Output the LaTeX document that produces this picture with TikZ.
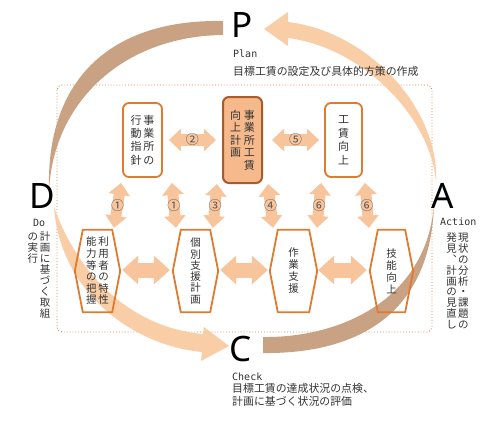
\documentclass[tikz,border=0pt]{standalone}
\usepackage{fontspec}
\setmainfont{Noto Sans CJK JP}
\newfontfamily\bigfont{Noto Sans}
\newfontfamily\monof{DejaVu Sans Mono}
\usetikzlibrary{arrows.meta,calc}
\definecolor{arrowc}{HTML}{F8C49C}
\definecolor{arcpeach}{HTML}{F9CDA6}
\definecolor{arcbrown}{HTML}{C9A183}
\definecolor{boxline}{HTML}{E07A2E}
\definecolor{centerfill}{HTML}{F5B98B}
\definecolor{centerline}{HTML}{A95C2B}
\definecolor{dotc}{HTML}{D9874A}
\definecolor{txt}{HTML}{333333}
\definecolor{numc}{HTML}{555555}
\newcommand{\vcol}[2]{\begin{minipage}[t]{1.05em}\centering\baselineskip=#1\relax #2\end{minipage}}
\tikzset{
  topbox/.style={draw=boxline, line width=1.8pt, rounded corners=6pt, fill=white,
    minimum width=39pt, minimum height=74pt, inner sep=0pt, text=txt,
    font=\fontsize{11}{13}\selectfont},
  centerbox/.style={topbox, draw=centerline, fill=centerfill, line width=2pt, minimum height=86pt},
  hexnode/.style={minimum width=45pt, minimum height=82pt, inner sep=0pt, text=txt,
    font=\fontsize{10.5}{11.5}\selectfont},
  hexline/.style={draw=boxline, line width=1.8pt, line join=round},
  hdbl/.style={draw=arrowc, line width=12pt,
    arrows={Triangle[width=22pt,length=12pt]-Triangle[width=22pt,length=12pt]}},
  bdbl/.style={draw=arrowc, line width=15pt,
    arrows={Triangle[width=28pt,length=16pt]-Triangle[width=28pt,length=16pt]}},
  vdbl/.style={draw=arrowc, line width=11pt,
    arrows={Triangle[width=21pt,length=12pt]-Triangle[width=21pt,length=12pt]}},
  num/.style={font=\fontsize{13}{13}\selectfont, text=numc, inner sep=0pt},
  bigl/.style={font=\bigfont\fontsize{35}{35}\selectfont, text=black, inner sep=0pt},
  monotxt/.style={font=\monof\fontsize{10}{12}\selectfont, text=txt, inner sep=0pt},
  jptxt/.style={font=\fontsize{10.9}{13}\selectfont, text=txt, inner sep=0pt},
  vtxt/.style={font=\fontsize{10.5}{11}\selectfont, text=txt, inner sep=0pt},
}
\begin{document}
\begin{tikzpicture}[x=1pt,y=-1pt]
\useasboundingbox (0,0) rectangle (500,423);
\fill[white] (0,0) rectangle (500,423);

% dotted frame
\draw[dotc, dotted, line width=0.9pt, rounded corners=5pt] (57,85) rectangle (432,332);

% PDCA arcs
\fill[arcbrown] (223,21) .. controls (110,19) and (46,80) .. (49,190)
  .. controls (54,100) and (125,36) .. (223,35) -- cycle;
\fill[arcpeach] (54,207) .. controls (60,290) and (130,345) .. (202,352)
  -- (201,361) -- (229,346) -- (204,327) -- (203,334)
  .. controls (135,328) and (80,280) .. (54,207) -- cycle;
\fill[arcbrown] (263,353) .. controls (350,354) and (430,320) .. (434,205)
  .. controls (426,300) and (340,338) .. (263,337) -- cycle;
\fill[arcpeach] (436,183) .. controls (440,110) and (370,32) .. (288,22)
  -- (288,12) -- (264,29) -- (288,46) -- (288,38)
  .. controls (365,48) and (432,120) .. (436,183) -- cycle;

% top boxes
\node[topbox] (b1) at (142.5,140) {\vcol{13.3pt}{行\\動\\指\\針}\hspace{1pt}\vcol{13.3pt}{事\\業\\所\\の}};
\node[centerbox] (b2) at (242.5,140) {\vcol{12.5pt}{向\\上\\計\\画}\hspace{2pt}\vcol{12.5pt}{事\\業\\所\\工\\賃}};
\node[topbox, minimum width=37pt] (b3) at (343.5,140) {\vcol{13.5pt}{工\\賃\\向\\上}};

% hexagons
\node[hexnode] (h1) at (97.5,271) {\vcol{11.6pt}{能\\力\\等\\の\\把\\握}\hspace{1pt}\vcol{11.6pt}{利\\用\\者\\の\\特\\性}};
\node[hexnode] (h2) at (195.5,271) {\vcol{11.3pt}{個\\別\\支\\援\\計\\画}};
\node[hexnode, minimum width=47pt] (h3) at (293.5,271) {\vcol{12pt}{作\\業\\支\\援}};
\node[hexnode, minimum width=43pt] (h4) at (391.5,271) {\vcol{12pt}{技\\能\\向\\上}};
\foreach \n in {h1,h2,h3,h4}{
  \draw[hexline] (\n.west) -- ($(\n.north west)+(8,0)$) -- ($(\n.north east)+(-8,0)$)
    -- (\n.east) -- ($(\n.south east)+(-8,0)$) -- ($(\n.south west)+(8,0)$) -- cycle;
}

% top horizontal arrows
\draw[hdbl, shorten <=6pt, shorten >=6pt] (b1.east) -- node[num]{②} (b2.west);
\draw[hdbl, shorten <=9pt, shorten >=5pt] (b2.east) -- node[num, xshift=2pt]{⑤} (b3.west);

% bottom horizontal arrows
\draw[bdbl, shorten <=2pt, shorten >=3pt] ($(h1.east)+(0,-1)$) -- ($(h2.west)+(0,-1)$);
\draw[bdbl, shorten <=2pt, shorten >=2pt] ($(h2.east)+(0,-1)$) -- ($(h3.west)+(0,-1)$);
\draw[bdbl, shorten <=1pt, shorten >=3pt] ($(h3.east)+(0,-1)$) -- ($(h4.west)+(0,-1)$);

% vertical arrows
\draw[vdbl] ($(b1.south west)+(-1,5)$) -- node[num]{①} ($(h1.north)+(16.5,-2)$);
\draw[vdbl] ($(b1.south east)+(9,5)$) -- node[num]{①} ($(h2.north)+(-19.5,-2)$);
\draw[vdbl] ($(b2.south west)+(-5,0)$) -- node[num]{③} ($(h2.north)+(17.5,-2)$);
\draw[vdbl] ($(b2.south east)+(5,0)$) -- node[num]{④} ($(h3.north)+(-20.5,-2)$);
\draw[vdbl] ($(b3.south west)+(-3,5)$) -- node[num]{⑥} ($(h3.north)+(23.5,-2)$);
\draw[vdbl] ($(b3.south east)+(2,5)$) -- node[num]{⑥} ($(h4.north)+(-22.5,-2)$);

% letters
\node[bigl, anchor=base west] (P) at (231,37) {P};
\node[bigl, anchor=base west] (D) at (29,208) {D};
\node[bigl, anchor=base west] (C) at (229,361) {C};
\node[bigl, anchor=base west] (A) at (431,208) {A};

% captions
\node[monotxt, anchor=base west] (plan) at (233,57) {Plan};
\node[jptxt, anchor=base west] (plandesc) at (233,75) {目標工賃の設定及び具体的方策の作成};
\node[monotxt, anchor=base west] (do) at (33,226) {Do};
\node[vtxt, anchor=north] (dotext) at (39,232) {\vcol{11pt}{の\\実\\行}\hspace{1pt}\vcol{11pt}{計\\画\\に\\基\\づ\\く\\取\\組}};
\node[monotxt, anchor=base west] (action) at (440,225) {Action};
\node[vtxt, anchor=north] (acttext) at (457.5,233) {\vcol{10.8pt}{発\\見\\︑\\計\\画\\の\\見\\直\\し}\hspace{0.5pt}\vcol{10.8pt}{現\\状\\の\\分\\析\\・\\課\\題\\の}};
\node[monotxt, anchor=base west] (check) at (232,380) {Check};
\node[jptxt, anchor=base west] (checkdesc1) at (232,392) {目標工賃の達成状況の点検、};
\node[jptxt, anchor=base west] (checkdesc2) at (232,405.5) {計画に基づく状況の評価};
\end{tikzpicture}
\end{document}
